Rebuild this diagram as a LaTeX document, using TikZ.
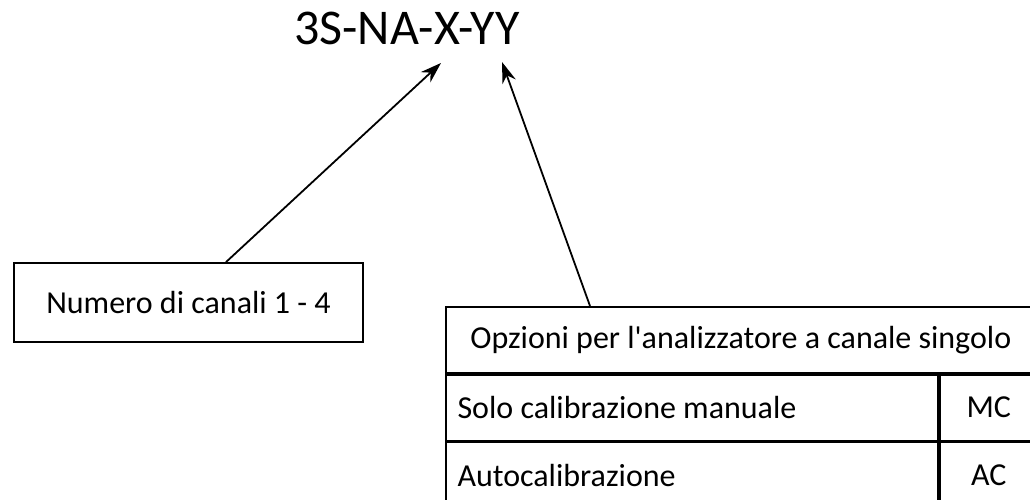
\documentclass[tikz,border=0pt]{standalone}
\usepackage{fontspec}
\setmainfont{Carlito}
\usepackage{tikz}
\usetikzlibrary{arrows.meta}

\begin{document}
\begin{tikzpicture}[x=1pt,y=1pt,>={Stealth[length=21pt,width=14pt]},
  box/.style={draw, line width=1.8pt, inner sep=0pt},
  cell/.style={box, minimum height=66pt},
  txt/.style={font=\fontsize{32}{38}\selectfont},
  pointer/.style={->, line width=1.8pt}]
  % Page
  \useasboundingbox (0,0) rectangle (1030,500);
  \clip (0,0) rectangle (1030,500);

  % Code
  \node[anchor=base, font=\fontsize{50}{60}\selectfont] (code) at (407,455) {3S-NA-X-YY};

  % Number of channels
  \node[box, txt, minimum width=349pt, minimum height=79pt] (canali) at (188.5,197.5) {Numero di canali 1 - 4};

  % Options table
  \node[cell, txt, minimum width=590pt, anchor=north west] (head) at (445,194) {Opzioni per l\textquotesingle analizzatore a canale singolo};
  \node[cell, minimum width=492pt, anchor=north west] (manual) at (head.south west) {};
  \node[cell, txt, minimum width=98pt, anchor=north west] (mc) at (manual.north east) {MC};
  \node[cell, minimum width=492pt, anchor=north west] (auto) at (manual.south west) {};
  \node[cell, txt, minimum width=98pt, anchor=north west] (ac) at (auto.north east) {AC};
  \node[txt, anchor=west] (manualtxt) at ([xshift=9pt]manual.west) {Solo calibrazione manuale};
  \node[txt, anchor=west] (autotxt) at ([xshift=9pt]auto.west) {Autocalibrazione};

  % Arrows
  \coordinate (tipX) at (441,437);
  \coordinate (tipY) at (502,438);
  \draw[pointer] ([xshift=37.5pt]canali.north) -- (tipX);
  \draw[pointer] ([xshift=145pt]head.north west) -- (tipY);
\end{tikzpicture}
\end{document}
